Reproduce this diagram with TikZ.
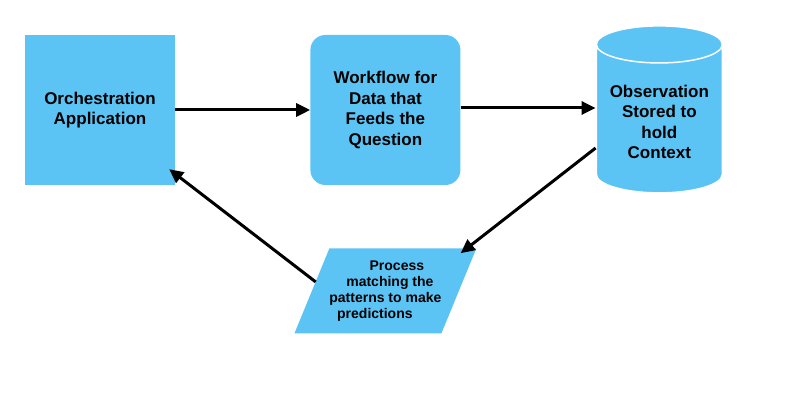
\documentclass[tikz,border=0pt]{standalone}
\usepackage{fontspec}
\setmainfont{Liberation Sans}
\usetikzlibrary{arrows.meta, positioning, shapes.geometric}
\definecolor{skyfill}{RGB}{91,196,245}

\begin{document}
\begin{tikzpicture}[>={Triangle[length=14pt,width=13pt]}, node distance=135pt,
  font=\bfseries\fontsize{17}{20.5}\selectfont,
  block/.style={fill=skyfill, minimum width=150pt, minimum height=150pt, align=center, inner sep=0pt}]
  \useasboundingbox (-100pt,110pt) rectangle (685pt,-291pt);
% define the blocks of the diagram
  \node[block]                        (orch)                 {Orchestration\\Application};
  \node[block, rounded corners=15pt]  (flow) [right=of orch] {Workflow for\\Data that\\Feeds the\\Question};
  \node[cylinder, shape border rotate=90, aspect=0.35, fill=skyfill, draw=white, line width=1.5pt,
        minimum width=126pt, minimum height=167pt, align=center]
                                      (obs)  [right=of flow, yshift=-12pt] {Observation\\Stored to\\hold\\Context};
  \node[trapezium, trapezium left angle=60, trapezium right angle=120, trapezium stretches body=true,
        fill=skyfill, minimum width=179pt, minimum height=85pt, inner sep=0pt, align=center,
        font=\bfseries\fontsize{14}{16}\selectfont]
                                      (proc) [below=63pt of flow]
        {\hspace*{23pt}Process\\ \hspace*{9pt}matching the\\ patterns to make\hspace*{5pt}\\ predictions\hspace*{21pt}};

% define the links
  \path[->, line width=3pt] (orch) edge (flow)
        ([yshift=2pt]flow.east) edge ([yshift=2pt]flow.east -| obs.west)
        ([yshift=-26pt]obs.west) edge ([xshift=-16pt,yshift=-5pt]proc.top right corner)
        ([xshift=4pt,yshift=9pt]proc.west) edge ([xshift=-6pt,yshift=16pt]orch.south east);
\end{tikzpicture}
\end{document}
